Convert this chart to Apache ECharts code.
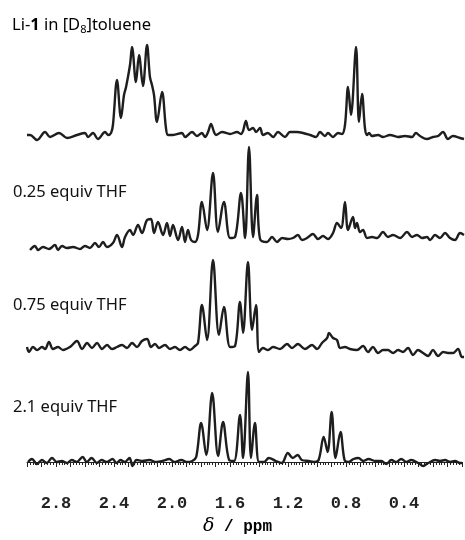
<!DOCTYPE html>
<html>
<head>
<meta charset="utf-8">
<script src="https://cdn.jsdelivr.net/npm/echarts@6/dist/echarts.min.js"></script>
<style>
html, body { margin: 0; padding: 0; background: #fff; }
#main { width: 465px; height: 540px; }
</style>
</head>
<body>
<div id="main"></div>
<script>
// [ppm, intensity], intensity relative to its own baseline
var tolueneData = [[3.000,0],[2.979,0],[2.931,-5],[2.876,3],[2.842,-2],[2.780,2],[2.725,-3],[2.657,0],[2.602,2],[2.581,-2],[2.547,2],[2.513,-4],[2.464,3],[2.444,0],[2.423,2],[2.410,10],[2.382,55],[2.355,17],[2.334,40],[2.320,48],[2.293,70],[2.279,88],[2.252,53],[2.231,80],[2.204,49],[2.176,90],[2.156,58],[2.142,50],[2.128,40],[2.108,13],[2.073,43],[2.046,7],[2.032,0],[1.998,0],[1.936,2],[1.915,-2],[1.867,3],[1.833,-1],[1.799,2],[1.778,-2],[1.757,3],[1.737,11],[1.716,3],[1.703,0],[1.661,3],[1.606,1],[1.558,3],[1.531,1],[1.517,4],[1.497,14],[1.476,5],[1.448,7],[1.428,3],[1.400,7],[1.380,0],[1.346,2],[1.311,-2],[1.277,3],[1.229,-2],[1.195,3],[1.146,3],[1.105,2],[1.057,0],[1.016,-2],[0.989,3],[0.954,-1],[0.934,2],[0.899,-2],[0.865,2],[0.838,1],[0.817,10],[0.796,48],[0.776,20],[0.741,88],[0.721,13],[0.700,41],[0.680,7],[0.666,0],[0.652,2],[0.632,-1],[0.590,0],[0.556,-2],[0.508,0],[0.453,-2],[0.405,-1],[0.357,-2],[0.330,2],[0.302,-1],[0.254,-4],[0.213,-2],[0.178,-1],[0.144,3],[0.110,-4],[0.076,-1],[0.027,-3],[0.000,-4]];

var thf025Data = [[2.979,-10],[2.945,-6],[2.924,-10],[2.890,-7],[2.849,-9],[2.808,-5],[2.787,-10],[2.760,-6],[2.725,-8],[2.684,-7],[2.636,-9],[2.602,-6],[2.568,-8],[2.533,-3],[2.506,-7],[2.478,-2],[2.451,-7],[2.410,-3],[2.382,5],[2.348,-7],[2.327,3],[2.293,10],[2.272,5],[2.238,15],[2.211,7],[2.176,20],[2.149,21],[2.128,7],[2.101,18],[2.066,5],[2.039,17],[2.018,4],[1.998,15],[1.963,0],[1.936,13],[1.915,-2],[1.895,10],[1.874,0],[1.847,-2],[1.826,5],[1.799,38],[1.764,10],[1.723,67],[1.689,8],[1.648,38],[1.606,2],[1.572,3],[1.531,47],[1.503,2],[1.476,93],[1.448,3],[1.421,45],[1.400,1],[1.352,-2],[1.318,3],[1.284,-2],[1.249,2],[1.208,1],[1.174,2],[1.140,5],[1.112,0],[1.078,2],[1.037,6],[1.002,1],[0.968,4],[0.934,1],[0.899,7],[0.872,17],[0.844,12],[0.817,38],[0.796,10],[0.762,23],[0.748,12],[0.735,17],[0.714,8],[0.693,10],[0.666,2],[0.632,3],[0.597,2],[0.556,8],[0.522,3],[0.487,5],[0.439,2],[0.391,8],[0.357,3],[0.323,5],[0.288,2],[0.254,3],[0.233,0],[0.199,5],[0.165,2],[0.130,7],[0.096,2],[0.062,0],[0.027,7],[0.000,5]];

var thf075Data = [[3.000,1],[2.986,-4],[2.959,1],[2.931,-2],[2.897,1],[2.876,-1],[2.849,6],[2.822,-1],[2.787,1],[2.753,-2],[2.705,1],[2.657,7],[2.622,-1],[2.588,5],[2.554,0],[2.519,5],[2.485,-1],[2.451,3],[2.416,-1],[2.382,1],[2.348,3],[2.313,0],[2.279,5],[2.245,1],[2.211,7],[2.176,9],[2.149,1],[2.121,4],[2.094,0],[2.053,3],[2.018,-1],[1.984,1],[1.950,-2],[1.915,1],[1.881,-2],[1.847,2],[1.826,5],[1.799,43],[1.764,8],[1.723,88],[1.682,13],[1.648,41],[1.606,1],[1.572,2],[1.538,46],[1.517,15],[1.483,86],[1.455,18],[1.428,43],[1.407,-4],[1.380,0],[1.346,-2],[1.311,1],[1.263,-1],[1.215,4],[1.181,0],[1.140,4],[1.092,-1],[1.043,3],[1.009,-1],[0.975,5],[0.940,10],[0.927,15],[0.899,10],[0.872,8],[0.851,0],[0.817,1],[0.783,-1],[0.735,-2],[0.693,2],[0.659,-4],[0.625,1],[0.590,-5],[0.556,-2],[0.522,-2],[0.487,-5],[0.453,-2],[0.419,-4],[0.384,0],[0.350,-7],[0.316,-2],[0.281,-5],[0.247,-8],[0.213,-2],[0.178,-8],[0.144,-4],[0.110,-5],[0.076,-5],[0.041,-1],[0.014,-9],[0.000,-9]];

var thf21Data = [[2.993,0],[2.966,3],[2.931,-2],[2.897,2],[2.863,-1],[2.828,4],[2.794,0],[2.760,1],[2.725,-1],[2.691,2],[2.657,0],[2.616,5],[2.588,0],[2.554,4],[2.519,-1],[2.485,2],[2.451,0],[2.410,3],[2.382,-1],[2.355,2],[2.327,0],[2.293,4],[2.272,-4],[2.245,2],[2.204,1],[2.156,2],[2.108,0],[2.066,1],[2.018,3],[1.984,0],[1.936,2],[1.895,0],[1.860,1],[1.833,5],[1.799,39],[1.764,7],[1.723,69],[1.682,6],[1.648,40],[1.606,2],[1.572,1],[1.531,47],[1.510,4],[1.476,90],[1.455,4],[1.428,39],[1.400,0],[1.366,0],[1.332,4],[1.284,1],[1.243,-1],[1.201,9],[1.167,4],[1.133,7],[1.105,2],[1.057,1],[1.023,0],[0.989,2],[0.954,25],[0.927,10],[0.899,50],[0.872,4],[0.838,30],[0.810,2],[0.783,0],[0.748,3],[0.714,4],[0.680,1],[0.645,3],[0.597,1],[0.556,1],[0.522,-2],[0.487,2],[0.453,0],[0.419,3],[0.384,0],[0.350,2],[0.302,-1],[0.268,-4],[0.233,-1],[0.185,2],[0.151,1],[0.117,2],[0.082,0],[0.048,1],[0.014,-1],[0.000,-1]];

var traceList = [tolueneData, thf025Data, thf075Data, thf21Data];
var tickLabels = [2.8, 2.4, 2.0, 1.6, 1.2, 0.8, 0.4];
var sampleLabels = ['0.25 equiv THF', '0.75 equiv THF', '2.1 equiv THF'];

var myChart = echarts.init(document.getElementById('main'));

// 每条谱线一个 grid，纵轴范围按像素高度配好
var grids = [
    {left: 27, right: 1, top: 35, height: 110},
    {left: 27, right: 1, top: 140, height: 115},
    {left: 27, right: 1, top: 253, height: 107},
    {left: 27, right: 1, top: 367, height: 103}
];
var yRanges = [[-10, 100], [-15, 100], [-12, 95], [-8, 95]];

var xAxes = [], yAxes = [], series = [];
for (var i = 0; i < 4; i++) {
    var last = (i === 3);
    xAxes.push({
        type: 'value',
        gridIndex: i,
        min: 0,
        max: 3,
        inverse: true,
        interval: 0.1,
        show: last,
        offset: last ? 11 : 0,
        splitLine: {show: false},
        axisLine: {show: true, lineStyle: {color: '#222', width: 1}},
        axisTick: {show: true, length: 5, lineStyle: {color: '#222', width: 1}},
        minorTick: {show: true, splitNumber: 5, length: 3, lineStyle: {color: '#222', width: 1}},
        minorSplitLine: {show: false},
        axisLabel: {
            margin: 14,
            fontFamily: 'Liberation Mono',
            fontWeight: 'bold',
            fontSize: 17,
            color: '#222',
            formatter: function (v) {
                var r = Math.round(v * 10) / 10;
                return tickLabels.indexOf(r) >= 0 ? r.toFixed(1) : '';
            }
        }
    });
    yAxes.push({
        type: 'value',
        gridIndex: i,
        min: yRanges[i][0],
        max: yRanges[i][1],
        show: false
    });
    series.push({
        type: 'line',
        xAxisIndex: i,
        yAxisIndex: i,
        data: traceList[i],
        smooth: 0.35,
        symbol: 'none',
        lineStyle: {color: '#1e1e1e', width: 2.4, join: 'round'},
        silent: true
    });
}

var textStyleBase = {fontFamily: 'Noto Sans', fontSize: 16.5, fill: '#111'};
var labelTops = [192, 305, 407];
var graphics = [{
    type: 'text',
    left: 12,
    top: 17,
    style: {
        text: '{a|Li-}{b|1}{a| in [D}{s|8}{a|]toluene}',
        rich: {
            a: {fontFamily: 'Noto Sans', fontSize: 16.5, color: '#111'},
            b: {fontFamily: 'Noto Sans', fontSize: 16.5, fontWeight: 'bold', color: '#111'},
            s: {fontFamily: 'Noto Sans', fontSize: 11, color: '#111', padding: [9, 0, 0, 0]}
        }
    }
}];
for (var k = 0; k < sampleLabels.length; k++) {
    graphics.push({
        type: 'text',
        left: 13,
        top: labelTops[k] - 8,
        style: echarts.util.extend({text: sampleLabels[k]}, textStyleBase)
    });
}
graphics.push({
    type: 'text',
    left: 203,
    top: 517,
    style: {
        text: '{d|δ}{m| / ppm}',
        rich: {
            d: {fontFamily: 'DejaVu Serif', fontStyle: 'italic', fontSize: 19, color: '#111'},
            m: {fontFamily: 'Liberation Mono', fontWeight: 'bold', fontSize: 16, color: '#111'}
        }
    }
});

option = {
    animation: false,
    backgroundColor: '#fff',
    grid: grids,
    xAxis: xAxes,
    yAxis: yAxes,
    series: series,
    graphic: graphics
};
myChart.setOption(option);
</script>
</body>
</html>
